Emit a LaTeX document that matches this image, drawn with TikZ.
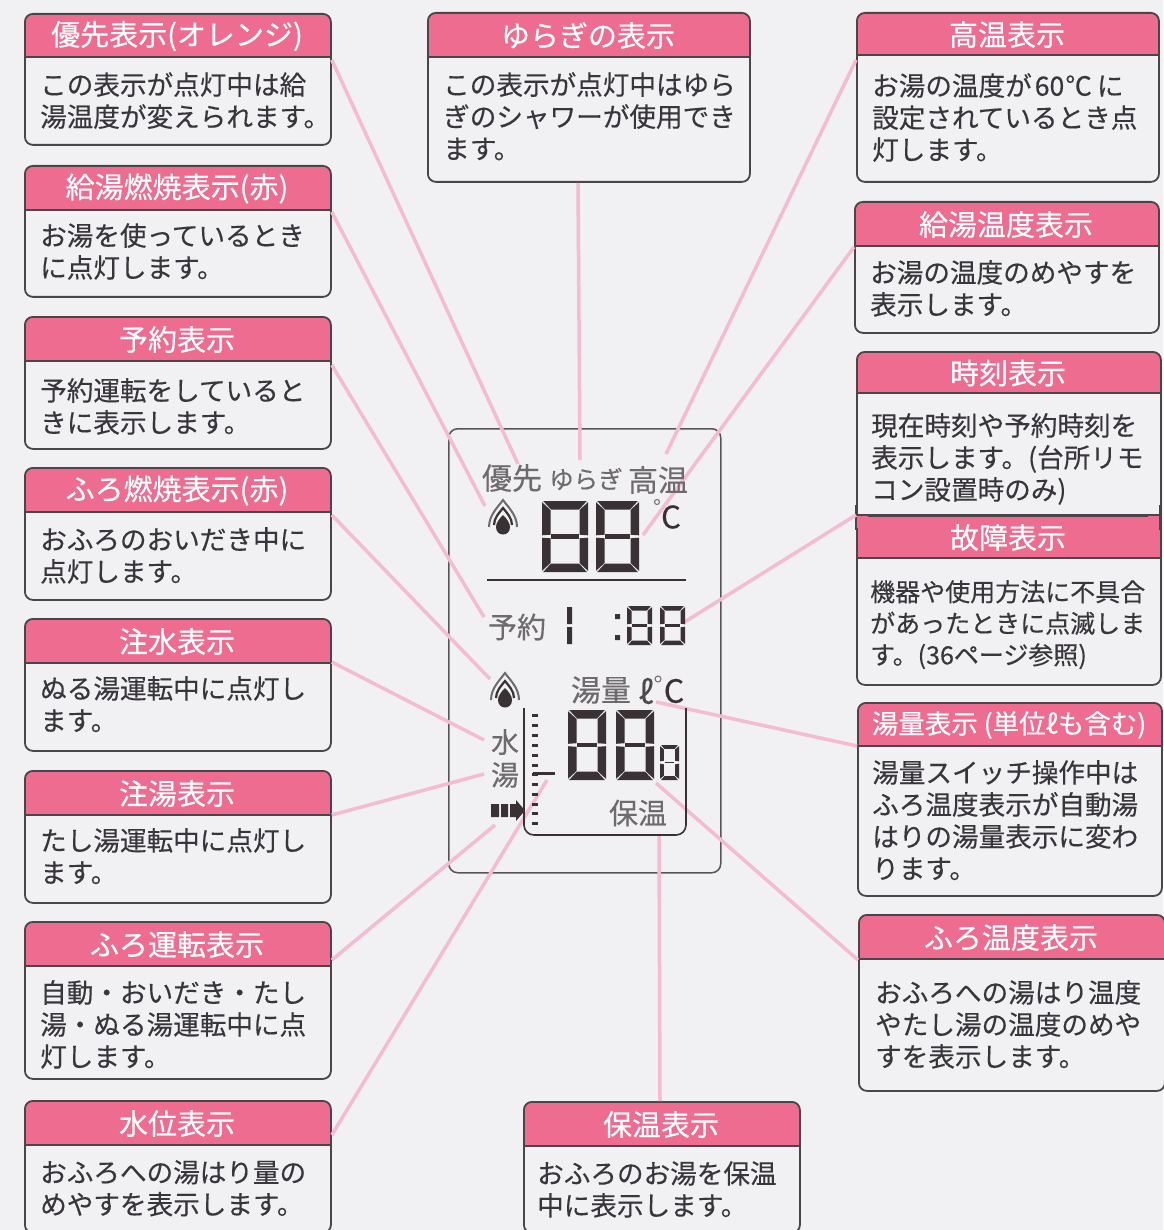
\documentclass[tikz,border=0pt]{standalone}
\usepackage{fontspec}
\usetikzlibrary{calc}
\setmainfont{Noto Sans CJK JP}[FakeBold=0.3]
\definecolor{bgc}{HTML}{F1F0F2}
\definecolor{hdc}{HTML}{EE6C90}
\definecolor{edgec}{HTML}{4A4548}
\definecolor{linkc}{HTML}{F5BBD0}
\definecolor{txtc}{HTML}{38363A}
\definecolor{lcdc}{HTML}{3A3135}
\definecolor{lblc}{HTML}{6E6A6E}
\tikzset{
  jb/.style={draw=edgec,line width=1.8pt,fill=bgc,rounded corners=8pt,inner sep=0pt,anchor=north west},
  jtitle/.style={text=white,inner sep=0pt,anchor=center,font=\fontsize{29}{30}\selectfont},
  jbody/.style={text=txtc,inner sep=0pt,anchor=north west,align=left,font=\fontsize{26.6}{32}\selectfont},
  link/.style={draw=linkc,line width=3.5pt},
  lbl/.style={text=lblc,inner sep=0pt,anchor=center},
  lcd/.style={fill=lcdc,draw=none},
}
% name, x1, y1, x2, ysplit, y2, title, body, body position
\newcommand\jbox[9]{%
  \pgfmathsetmacro\jw{#4-#2}\pgfmathsetmacro\jh{#6-#3}\pgfmathsetmacro\jhh{#5-#3}%
  \pgfmathsetmacro\jcx{(#2+#4)/2}\pgfmathsetmacro\jcy{(#3+#5)/2+1}%
  \node[jb,minimum width=\jw pt,minimum height=\jh pt,
    path picture={\fill[hdc] ($(path picture bounding box.north west)+(-3,-3)$) rectangle ($(path picture bounding box.north east)+(3,\jhh)$);}] (#1) at (#2,#3) {};
  \draw[edgec,line width=1.8pt] (#2,#5) -- (#4,#5);
  \node[jtitle] (#1-t) at (\jcx,\jcy) {#7};
  \node[jbody] (#1-b) at (#9) {#8};
}
% seven segment 8: x,y,w,h,t
\newcommand\segeight[5]{%
  \pgfmathsetmacro\sxb{#1+#3}\pgfmathsetmacro\syb{#2+#4}%
  \pgfmathsetmacro\sxi{#1+#5}\pgfmathsetmacro\sxj{#1+#3-#5}%
  \pgfmathsetmacro\syi{#2+#5}\pgfmathsetmacro\syj{#2+#4-#5}%
  \pgfmathsetmacro\smid{#2+#4/2}\pgfmathsetmacro\smt{#5*0.5}%
  \fill[lcd] (#1+1.2,#2) -- (\sxb-1.2,#2) -- (\sxj-.5,\syi) -- (\sxi+.5,\syi) -- cycle;
  \fill[lcd] (#1+1.2,\syb) -- (\sxb-1.2,\syb) -- (\sxj-.5,\syj) -- (\sxi+.5,\syj) -- cycle;
  \fill[lcd] (#1,#2+1.2) -- (\sxi,\syi+.5) -- (\sxi,\smid-1.8) -- (#1,\smid-1.2) -- cycle;
  \fill[lcd] (#1,\smid+1.2) -- (\sxi,\smid+1.8) -- (\sxi,\syj-.5) -- (#1,\syb-1.2) -- cycle;
  \fill[lcd] (\sxb,#2+1.2) -- (\sxj,\syi+.5) -- (\sxj,\smid-1.8) -- (\sxb,\smid-1.2) -- cycle;
  \fill[lcd] (\sxb,\smid+1.2) -- (\sxj,\smid+1.8) -- (\sxj,\syj-.5) -- (\sxb,\syb-1.2) -- cycle;
  \draw[lcdc,line width=\smt pt] (\sxi+.8,\smid) -- (\sxj-.8,\smid);
}
% flame at centre x, top y
\newcommand\flamemark[2]{%
  \draw[lblc,line width=2pt] (#1-14,#2+28) .. controls (#1-14,#2+16) and (#1-5,#2+8) .. (#1,#2+1)
    .. controls (#1+5,#2+8) and (#1+14,#2+16) .. (#1+14,#2+28);
  \draw[lcdc,line width=2.2pt] (#1-9,#2+26) .. controls (#1-9,#2+19) and (#1-4,#2+14) .. (#1,#2+9)
    .. controls (#1+4,#2+14) and (#1+9,#2+19) .. (#1+9,#2+26);
  \fill[lcdc] (#1,#2+16) .. controls (#1+4,#2+20) and (#1+7,#2+24) .. (#1+7,#2+28)
    .. controls (#1+7,#2+38) and (#1-7,#2+38) .. (#1-7,#2+28)
    .. controls (#1-7,#2+24) and (#1-4,#2+20) .. (#1,#2+16) -- cycle;
}
\begin{document}
\begin{tikzpicture}[x=1pt,y=-1pt]
\useasboundingbox (0,0) rectangle (1163,1230);
\fill[bgc] (0,0) rectangle (1163,1230);
% panel
\node[draw=lblc!80!black,line width=1.5pt,rounded corners=9pt,inner sep=0pt,anchor=north west,minimum width=272pt,minimum height=444pt] (panel) at (448,428) {};
% callouts
\jbox{yuusen}{24}{13}{330}{57}{144}{優先表示(オレンジ)}{この表示が点灯中は給\\湯温度が変えられます。}{40,72}
\jbox{kyuunen}{24}{165}{330}{210}{296}{給湯燃焼表示(赤)}{お湯を使っているとき\\に点灯します。}{40,223}
\jbox{yoyaku}{24}{316}{330}{361}{448}{予約表示}{予約運転をしていると\\きに表示します。}{40,378}
\jbox{furonen}{24}{467}{330}{512}{599}{ふろ燃焼表示(赤)}{おふろのおいだき中に\\点灯します。}{40,527}
\jbox{chuusui}{24}{618}{330}{663}{750}{注水表示}{ぬる湯運転中に点灯し\\ます。}{40,676}
\jbox{chuuto}{24}{770}{330}{815}{902}{注湯表示}{たし湯運転中に点灯し\\ます。}{40,828}
\jbox{furoun}{24}{921}{330}{966}{1078}{ふろ運転表示}{自動・おいだき・たし\\湯・ぬる湯運転中に点\\灯します。}{40,980}
\jbox{suii}{24}{1100}{330}{1145}{1232}{水位表示}{おふろへの湯はり量の\\めやすを表示します。}{40,1160}
\jbox{yuragi}{427}{12}{749}{57}{181}{ゆらぎの表示}{この表示が点灯中はゆら\\ぎのシャワーが使用でき\\ます。}{443,72}
\jbox{hoon}{523}{1101}{799}{1146}{1232}{保温表示}{おふろのお湯を保温\\中に表示します。}{537,1161}
\jbox{kouon}{856}{12}{1158}{55}{181}{高温表示}{お湯の温度が\kern3pt 60\kern1pt ℃\kern5pt に\\設定されているとき点\\灯します。}{872,73}
\jbox{kyuuon}{854}{201}{1158}{246}{332}{給湯温度表示}{お湯の温度のめやすを\\表示します。}{870,260}
\jbox{jikoku}{856}{351}{1160}{393}{530}{時刻表示}{現在時刻や予約時刻を\\表示します。(台所リモ\\コン設置時のみ)}{871,413}
{\tikzset{jbody/.append style={font=\fontsize{25}{31.5}\selectfont}}
\jbox{koshou}{856}{515}{1160}{558}{684}{故障表示}{機器や使用方法に不具合\\があったときに点滅しま\\す。(36ページ参照)}{870,580}}
\fill[hdc] (856,515) rectangle (868,528) (1148,515) rectangle (1160,528);
\draw[edgec,line width=1.8pt] (856,505) -- (856,530) (1160,505) -- (1160,530) (856,515) -- (1160,515);
\jbox{yuuryou}{857}{702}{1161}{746}{895}{\fontsize{26.5}{28}\selectfont 湯量表示 (単位ℓも含む)}{湯量スイッチ操作中は\\ふろ温度表示が自動湯\\はりの湯量表示に変わ\\ります。}{872,760}
\jbox{furoon}{858}{914}{1164}{959}{1090}{ふろ温度表示}{おふろへの湯はり温度\\やたし湯の温度のめや\\すを表示します。}{875,980}
% connector ends
\coordinate (e1) at (518,464);
\coordinate (e2) at (485,506);
\coordinate (e3) at (484,617);
\coordinate (e4) at (490,679);
\coordinate (e5) at (484,740);
\coordinate (e6) at (484,774);
\coordinate (e7) at (495,825);
\coordinate (e8) at (547,780);
\coordinate (e9) at (580,460);
\coordinate (e10) at (659,834);
\coordinate (e11) at (666,454);
\coordinate (e12) at (643,535);
\coordinate (e13) at (683,623);
\coordinate (e14) at (656,702);
\coordinate (e15) at (656,783);
\draw[link] ($(yuusen.north east)+(0,47)$) -- (e1);
\draw[link] ($(kyuunen.north east)+(0,47)$) -- (e2);
\draw[link] ($(yoyaku.north east)+(0,49)$) -- (e3);
\draw[link] ($(furonen.north east)+(0,48)$) -- (e4);
\draw[link] ($(chuusui.north east)+(0,44)$) -- (e5);
\draw[link] ($(chuuto.north east)+(0,45)$) -- (e6);
\draw[link] ($(furoun.north east)+(0,39)$) -- (e7);
\draw[link] ($(suii.north east)+(0,35)$) -- (e8);
\draw[link] ($(yuragi.south west)+(151,0)$) -- (e9);
\draw[link] ($(hoon.north west)+(137,0)$) -- (e10);
\draw[link] ($(kouon.north west)+(0,48)$) -- (e11);
\draw[link] ($(kyuuon.north west)+(0,46)$) -- (e12);
\draw[link] (koshou.north west) -- (e13);
\draw[link] ($(yuuryou.north west)+(0,44)$) -- (e14);
\draw[link] ($(furoon.north west)+(0,46)$) -- (e15);
% LCD upper
\node[lbl,font=\fontsize{30}{30}\selectfont] (l1) at (512,478) {優先};
\node[lbl,font=\fontsize{24.5}{25}\selectfont] (l2) at (586,479) {ゆらぎ};
\node[lbl,font=\fontsize{30}{30}\selectfont] (l3) at (658,480) {高温};
\flamemark{503}{499}
\segeight{542}{501}{46}{71}{8.5}
\segeight{596}{501}{43}{71}{8.5}
\node[circle,draw=lblc,line width=1pt,inner sep=0pt,minimum size=5pt] (deg1) at (657,502) {};
\node[text=lcdc,inner sep=0pt,font=\fontsize{31}{31}\selectfont] (c1) at (671,517) {C};
\draw[lcdc,line width=1.8pt] (487,580) -- (686,580);
\node[lbl,font=\fontsize{29}{29}\selectfont] (l4) at (517,627) {予約};
\fill[lcd] (567,607) rectangle (572,624) (567,627) rectangle (572,644);
\fill[lcd] (615,614) rectangle (620,619) (615,635) rectangle (620,640);
\segeight{627}{606}{25}{39}{4.5}
\segeight{660}{606}{25}{39}{4.5}
% LCD lower
\flamemark{505}{672}
\node[lbl,font=\fontsize{30}{30}\selectfont] (l5) at (601,690) {湯量};
\node[text=lblc!70!black,inner sep=0pt,font=\fontsize{32}{32}\selectfont\itshape] (l6) at (646,691) {ℓ};
\node[circle,draw=lblc,line width=1pt,inner sep=0pt,minimum size=6pt] (deg2) at (658,679) {};
\node[text=lcdc,inner sep=0pt,font=\fontsize{32}{32}\selectfont] (c2) at (674,691) {C};
\node[lbl,font=\fontsize{28}{28}\selectfont] (l7) at (505,742) {水};
\node[lbl,font=\fontsize{28}{28}\selectfont] (l8) at (505,775) {湯};
\fill[lcdc] (491,804) rectangle (499,817) (501,804) rectangle (508,817) (510,804) rectangle (516,817);
\fill[lcdc] (516,800) -- (525,810.5) -- (516,821) -- cycle;
\draw[lcdc,line width=1.6pt,rounded corners=10pt] (524,708) -- (524,835) -- (686,835) -- (686,708);
\foreach \tk in {715,725,735,745,755,765,774,784,794,804,813,823}{\fill[lcdc] (532,\tk-1.5) rectangle (538,\tk+1.5);}
\fill[lcdc] (533,772) rectangle (555,775);
\segeight{568}{710}{38}{70}{8.5}
\segeight{616}{710}{38}{70}{8.5}
\segeight{660}{745}{19}{35}{3.8}
\node[lbl,font=\fontsize{29}{29}\selectfont] (l9) at (638,813) {保温};
\end{tikzpicture}
\end{document}
